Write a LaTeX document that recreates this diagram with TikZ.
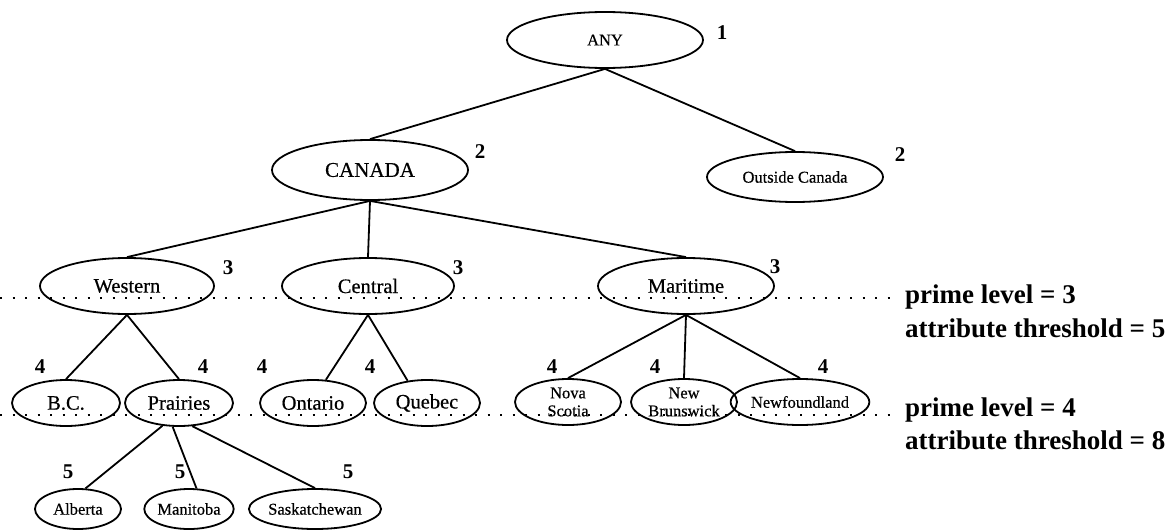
\documentclass[tikz,border=0pt]{standalone}
\usepackage{fontspec}
\setmainfont{Liberation Serif}
\newfontfamily\heavyserif[FakeBold=0.5]{Liberation Serif}
\usetikzlibrary{shapes.geometric}
\tikzset{
  ell/.style={draw, ellipse, line width=1.8pt, inner sep=0pt},
  bigtxt/.style={font=\heavyserif\fontsize{21}{24}\selectfont},
  midtxt/.style={font=\heavyserif\fontsize{20.5}{22}\selectfont},
  smalltxt/.style={font=\heavyserif\fontsize{16.5}{18}\selectfont, align=center},
  lvl/.style={font=\bfseries\fontsize{21}{22}\selectfont, inner sep=0pt},
  edge/.style={line width=1.8pt},
  dotline/.style={line width=2.2pt, dash pattern=on 2.2pt off 10.3pt},
  note/.style={font=\bfseries\fontsize{27}{30}\selectfont, anchor=west, inner sep=0pt}
}
\begin{document}
\begin{tikzpicture}[x=1pt, y=-1pt]
\useasboundingbox (0,0) rectangle (1170,530);
% nodes
\node[ell, smalltxt, minimum width=196pt, minimum height=56pt] (any) at (605,40) {ANY};
\node[ell, bigtxt, minimum width=196pt, minimum height=60pt] (canada) at (370,170) {CANADA};
\node[ell, smalltxt, minimum width=176pt, minimum height=50pt] (outside) at (795,177) {Outside Canada};
\node[ell, midtxt, minimum width=174pt, minimum height=56pt] (western) at (127,286) {Western};
\node[ell, midtxt, minimum width=172pt, minimum height=56pt] (central) at (368,286) {Central};
\node[ell, midtxt, minimum width=176pt, minimum height=56pt] (maritime) at (686,286) {Maritime};
\node[ell, midtxt, minimum width=108pt, minimum height=46pt] (bc) at (66,403) {B.C.};
\node[ell, midtxt, minimum width=108pt, minimum height=46pt] (prairies) at (179,403) {Prairies};
\node[ell, midtxt, minimum width=106pt, minimum height=46pt] (ontario) at (313,403) {Ontario};
\node[ell, midtxt, minimum width=106pt, minimum height=46pt] (quebec) at (427,403) {Quebec};
\node[ell, smalltxt, minimum width=106pt, minimum height=46pt] (nova) at (568,402) {Nova\\Scotia};
\node[ell, smalltxt, minimum width=106pt, minimum height=46pt] (newb) at (684,402) {New\\Brunswick};
\node[ell, smalltxt, minimum width=116pt, minimum height=46pt] (newf) at (800,402) {Newfoundland};
\node[ell, smalltxt, minimum width=86pt, minimum height=40pt] (alberta) at (78,509) {Alberta};
\node[ell, smalltxt, minimum width=86pt, minimum height=40pt] (manitoba) at (189,509) {Manitoba};
\node[ell, smalltxt, minimum width=104pt, minimum height=40pt] (sask) at (315,509) {Saskatchewan};
% level labels
\node[lvl] (l1) at (722,33) {1};
\node[lvl] (l2a) at (480,152) {2};
\node[lvl] (l2b) at (900,155) {2};
\node[lvl] (l3a) at (228,268) {3};
\node[lvl] (l3b) at (458,268) {3};
\node[lvl] (l3c) at (775,267) {3};
\node[lvl] (l4a) at (40,367) {4};
\node[lvl] (l4b) at (203,367) {4};
\node[lvl] (l4c) at (262,367) {4};
\node[lvl] (l4d) at (370,367) {4};
\node[lvl] (l4e) at (552,367) {4};
\node[lvl] (l4f) at (655,367) {4};
\node[lvl] (l4g) at (823,367) {4};
\node[lvl] (l5a) at (68,472) {5};
\node[lvl] (l5b) at (180,472) {5};
\node[lvl] (l5c) at (348,472) {5};
% edges
\draw[edge] (any.south) -- (canada.north);
\draw[edge] (any.south) -- (outside.north);
\draw[edge] (canada.south) -- (western.north);
\draw[edge] (canada.south) -- (central.north);
\draw[edge] (canada.south) -- (maritime.north);
\draw[edge] (western.south) -- (bc.north);
\draw[edge] (western.south) -- (prairies.north);
\draw[edge] (central.south) -- (ontario.61);
\draw[edge] (central.south) -- (quebec.131);
\draw[edge] (maritime.south) -- (nova.north);
\draw[edge] (maritime.south) -- (newb.north);
\draw[edge] (maritime.south) -- (newf.north);
\draw[edge] (prairies.234) -- (alberta.70);
\draw[edge] (prairies.255) -- (manitoba.70);
\draw[edge] (prairies.300) -- (sask.north);
% prime level lines
\coordinate (d3s) at (0,298);
\coordinate (d3e) at (895,298);
\coordinate (d4s) at (0,415);
\coordinate (d4e) at (895,415);
\draw[dotline] (d3s) -- (d3e);
\draw[dotline] (d4s) -- (d4e);
\node[note] (p3) at (905,297) {prime level = 3};
\node[note] (a5) at (905,328) {attribute threshold = 5};
\node[note] (p4) at (905,410) {prime level = 4};
\node[note] (a8) at (905,440) {attribute threshold = 8};
\end{tikzpicture}
\end{document}
